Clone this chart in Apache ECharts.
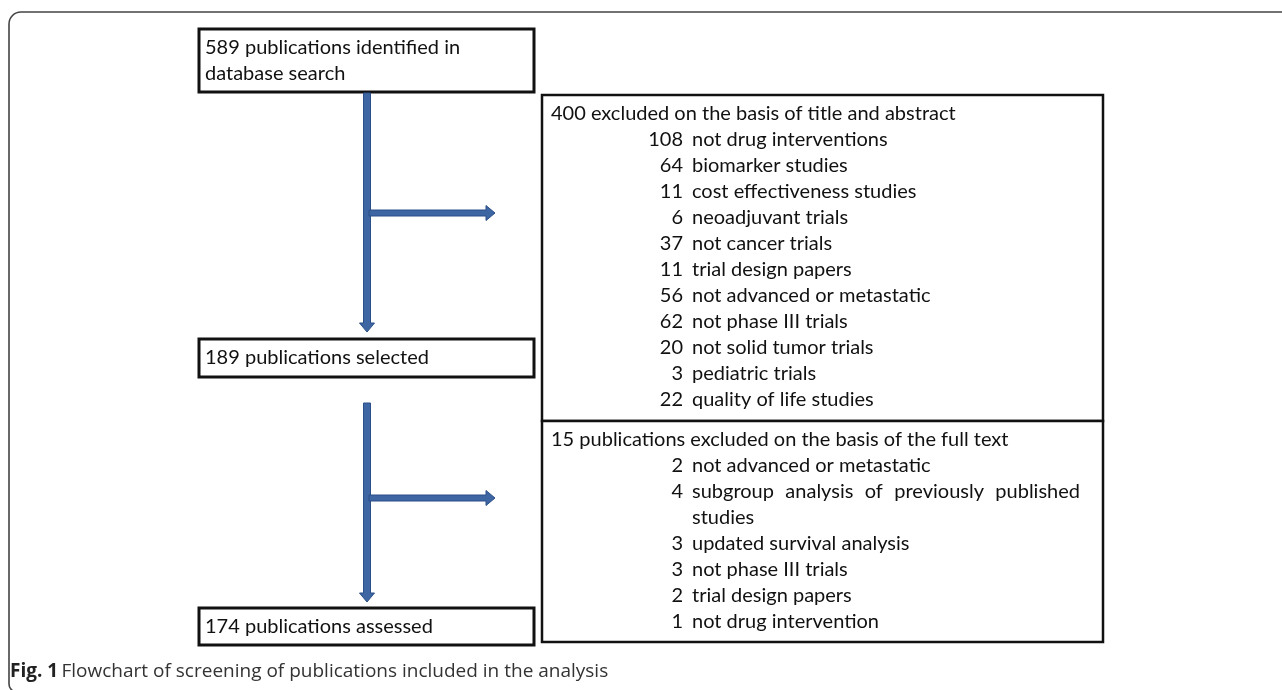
<!DOCTYPE html>
<html>
<head>
<meta charset="utf-8">
<script src="https://cdn.jsdelivr.net/npm/echarts@6/dist/echarts.min.js"></script>
<style>html,body{margin:0;padding:0;background:#fff;}#main{width:1282px;height:690px;}</style>
</head>
<body>
<div id="main"></div>
<script>
// ---- data ----
const stepTexts = ['589 publications identified in\ndatabase search', '189 publications selected', '174 publications assessed'];
const excl1Head = ['400', 'excluded on the basis of title and abstract'];
const excl1Counts = [108, 64, 11, 6, 37, 11, 56, 62, 20, 3, 22];
const excl1Labels = ['not drug interventions', 'biomarker studies', 'cost effectiveness studies', 'neoadjuvant trials',
  'not cancer trials', 'trial design papers', 'not advanced or metastatic', 'not phase III trials',
  'not solid tumor trials', 'pediatric trials', 'quality of life studies'];
const excl2Head = ['15', 'publications excluded on the basis of the full text'];
const excl2Counts = [2, 4, 3, 3, 2, 1];
const excl2Labels = ['not advanced or metastatic', 'subgroup analysis of previously published\nstudies',
  'updated survival analysis', 'not phase III trials', 'trial design papers', 'not drug intervention'];
const captionBold = 'Fig. 1';
const captionText = 'Flowchart of screening of publications included in the analysis';

// ---- layout ----
const FONT = 'Lato';
const FS = 20;
const LH = 26;
const boxL = {x: 199, w: 335};
const stepBoxes = [{y: 29, h: 63}, {y: 339, h: 38}, {y: 608, h: 37}];
const rightBox = {x: 542, w: 561, y1: 95, ymid: 421, y2: 642};
const numRight = 683, labelLeft = 692, justifyRight = 1080;
const arrowX = 367;
const arrowColor = '#3d66a3', arrowStroke = '#2b4f88';

const chart = echarts.init(document.getElementById('main'), null, {renderer: 'canvas'});
const g = [];
const mctx = document.createElement('canvas').getContext('2d');
mctx.font = FS + 'px ' + FONT;

// outer frame
g.push({type: 'rect', shape: {x: 9, y: 12, width: 1400, height: 680, r: [12, 0, 0, 8]},
  style: {fill: 'none', stroke: '#444', lineWidth: 1.6}, z: 1});

function txt(t, x, y, align) {
  return {type: 'text', z: 10, style: {text: t, x: x, y: y, fill: '#111',
    fontFamily: FONT, fontSize: FS, align: align || 'left', verticalAlign: 'middle', lineHeight: LH}};
}
// justified line (wrapped line in the source document)
function justified(line, x0, x1, y) {
  const words = line.split(' ');
  const total = words.reduce((s, w) => s + mctx.measureText(w).width, 0);
  const gap = (x1 - x0 - total) / (words.length - 1);
  let x = x0;
  words.forEach(w => { g.push(txt(w, x, y, 'left')); x += mctx.measureText(w).width + gap; });
}

// step boxes
stepTexts.forEach((t, i) => {
  const b = stepBoxes[i];
  g.push({type: 'rect', shape: {x: boxL.x, y: b.y, width: boxL.w, height: b.h},
    style: {fill: '#fff', stroke: '#111', lineWidth: 3}, z: 5});
  g.push(txt(t, boxL.x + 6, b.y + b.h / 2, 'left'));
});

// right boxes
g.push({type: 'rect', shape: {x: rightBox.x, y: rightBox.y1, width: rightBox.w, height: rightBox.ymid - rightBox.y1},
  style: {fill: '#fff', stroke: '#111', lineWidth: 2.5}, z: 5});
g.push({type: 'rect', shape: {x: rightBox.x, y: rightBox.ymid, width: rightBox.w, height: rightBox.y2 - rightBox.ymid},
  style: {fill: '#fff', stroke: '#111', lineWidth: 2.5}, z: 5});

function listBlock(head, counts, labels, y0) {
  g.push(txt(head[0] + ' ' + head[1], rightBox.x + 9, y0, 'left'));
  let line = 1;
  counts.forEach((c, i) => {
    const parts = labels[i].split('\n');
    g.push(txt(String(c), numRight, y0 + line * LH, 'right'));
    parts.forEach((p, k) => {
      const y = y0 + (line + k) * LH;
      if (parts.length > 1 && k < parts.length - 1) justified(p, labelLeft, justifyRight, y);
      else g.push(txt(p, labelLeft, y, 'left'));
    });
    line += parts.length;
  });
}
listBlock(excl1Head, excl1Counts, excl1Labels, 114);
listBlock(excl2Head, excl2Counts, excl2Labels, 440);

// arrows
function vArrow(cx, y0, y1) {
  const s = 3.5, h = 7.5, L = 9;
  return {type: 'polygon', z: 6, shape: {points: [[cx - s, y0], [cx + s, y0], [cx + s, y1 - L], [cx + h, y1 - L], [cx, y1],
    [cx - h, y1 - L], [cx - s, y1 - L]]}, style: {fill: arrowColor, stroke: arrowStroke, lineWidth: 1}};
}
function hArrow(x0, x1, cy) {
  const s = 3, h = 7.5, L = 9;
  return {type: 'polygon', z: 7, shape: {points: [[x0, cy - s], [x1 - L, cy - s], [x1 - L, cy - h], [x1, cy], [x1 - L, cy + h],
    [x1 - L, cy + s], [x0, cy + s]]}, style: {fill: arrowColor, stroke: arrowStroke, lineWidth: 1}};
}
g.push(vArrow(arrowX, 93, 332));
g.push(hArrow(arrowX + 2, 495, 213));
g.push(vArrow(arrowX, 403, 602));
g.push(hArrow(arrowX + 2, 495, 498));

// caption
g.push({type: 'text', z: 10, style: {x: 10, y: 672, verticalAlign: 'middle',
  text: '{b|' + captionBold + '} {r|' + captionText + '}',
  rich: {b: {fontFamily: 'Open Sans', fontWeight: 'bold', fontSize: 19, fill: '#222'},
         r: {fontFamily: 'Open Sans', fontSize: 19, fill: '#333'}}}});

chart.setOption({animation: false, backgroundColor: '#fff', graphic: {elements: g}});
</script>
</body>
</html>
